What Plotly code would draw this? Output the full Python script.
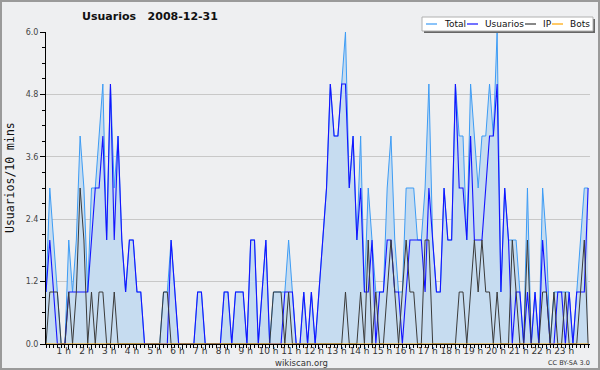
import plotly.graph_objects as go

# 10-minute slots over the day (minutes since midnight)
minutes = list(range(0, 1440, 10))

total = [
    1, 3, 2, 1, 0, 0, 2, 1, 2, 4, 3, 1, 3, 3, 4, 5, 2, 5, 3, 4, 2, 1, 2, 2,
    1, 1, 0, 0, 0, 0, 0, 1, 1, 2, 1, 0, 0, 0, 0, 0, 1, 1, 0, 0, 0, 0, 0, 1,
    1, 0, 1, 1, 1, 0, 2, 2, 0, 1, 2, 0, 1, 1, 1, 1, 2, 1, 0, 0, 1, 0, 1, 0,
    1, 2, 3, 5, 4, 4, 5, 6, 3, 4, 2, 4, 1, 3, 2, 1, 1, 1, 3, 4, 2, 1, 1, 3,
    3, 3, 2, 2, 3, 5, 2, 1, 1, 3, 2, 2, 5, 4, 4, 2, 5, 4, 3, 4, 4, 5, 4, 6,
    1, 3, 2, 2, 2, 1, 0, 3, 0, 1, 0, 3, 2, 0, 1, 1, 1, 1, 1, 0, 1, 2, 3, 3,
]
usuarios = [
    1, 2, 1, 0, 0, 0, 1, 1, 1, 1, 1, 1, 2, 3, 3, 4, 2, 5, 2, 4, 2, 1, 2, 2,
    1, 1, 0, 0, 0, 0, 0, 0, 0, 2, 1, 0, 0, 0, 0, 0, 1, 1, 0, 0, 0, 0, 0, 1,
    1, 0, 1, 1, 1, 0, 2, 2, 0, 1, 2, 0, 0, 0, 0, 1, 1, 1, 0, 0, 1, 0, 1, 0,
    1, 2, 3, 5, 4, 4, 5, 5, 3, 4, 2, 3, 1, 1, 2, 0, 1, 1, 2, 2, 1, 1, 0, 1,
    2, 2, 2, 2, 1, 3, 2, 1, 1, 3, 2, 2, 5, 3, 3, 2, 4, 2, 2, 2, 3, 4, 4, 5,
    1, 3, 2, 0, 1, 1, 0, 1, 0, 1, 0, 2, 1, 0, 0, 1, 1, 0, 1, 0, 1, 1, 1, 3,
]
ip = [
    0, 1, 1, 1, 0, 0, 1, 0, 1, 3, 2, 0, 1, 0, 1, 1, 0, 0, 1, 0, 0, 0, 0, 0,
    0, 0, 0, 0, 0, 0, 0, 1, 1, 0, 0, 0, 0, 0, 0, 0, 0, 0, 0, 0, 0, 0, 0, 0,
    0, 0, 0, 0, 0, 0, 0, 0, 0, 0, 0, 0, 1, 1, 1, 0, 1, 0, 0, 0, 0, 0, 0, 0,
    0, 0, 0, 0, 0, 0, 0, 1, 0, 0, 0, 1, 0, 2, 0, 1, 0, 0, 1, 2, 1, 0, 1, 2,
    1, 1, 0, 0, 2, 2, 0, 0, 0, 0, 0, 0, 0, 1, 1, 0, 1, 2, 1, 2, 1, 1, 0, 1,
    0, 0, 0, 2, 1, 0, 0, 2, 0, 0, 0, 1, 1, 0, 1, 0, 0, 1, 0, 0, 0, 1, 2, 0,
]
bots = [
    0, 0, 0, 0, 0, 0, 0, 0, 0, 0, 0, 0, 0, 0, 0, 0, 0, 0, 0, 0, 0, 0, 0, 0,
    0, 0, 0, 0, 0, 0, 0, 0, 0, 0, 0, 0, 0, 0, 0, 0, 0, 0, 0, 0, 0, 0, 0, 0,
    0, 0, 0, 0, 0, 0, 0, 0, 0, 0, 0, 0, 0, 0, 0, 0, 0, 0, 0, 0, 0, 0, 0, 0,
    0, 0, 0, 0, 0, 0, 0, 0, 0, 0, 0, 0, 0, 0, 0, 0, 0, 0, 0, 0, 0, 0, 0, 0,
    0, 0, 0, 0, 0, 0, 0, 0, 0, 0, 0, 0, 0, 0, 0, 0, 0, 0, 0, 0, 0, 0, 0, 0,
    0, 0, 0, 0, 0, 0, 0, 0, 0, 0, 0, 0, 0, 0, 0, 0, 0, 0, 0, 0, 0, 0, 0, 0,
]

hour_ticks = [60, 120, 180, 240, 300, 360, 420, 480, 540, 600, 660, 720,
              780, 840, 900, 960, 1020, 1080, 1140, 1200, 1260, 1320, 1380]
hour_labels = ["1 h", "2 h", "3 h", "4 h", "5 h", "6 h", "7 h", "8 h", "9 h",
               "10 h", "11 h", "12 h", "13 h", "14 h", "15 h", "16 h", "17 h",
               "18 h", "19 h", "20 h", "21 h", "22 h", "23 h"]
y_ticks = [0.0, 1.2, 2.4, 3.6, 4.8, 6.0]
y_labels = ["0.0", "1.2", "2.4", "3.6", "4.8", "6.0"]

series_names = ["Total", "Usuarios", "IP", "Bots"]
series_colors = ["#3d9cf5", "#1414ff", "#3a3a3a", "#ffa500"]

W, H = 600, 370
ML, MR, MT, MB = 46, 10, 32, 26
PW, PH = W - ML - MR, H - MT - MB


def px(x):
    return (x - ML) / PW


def py(y):
    return (H - MB - y) / PH


fig = go.Figure()
fig.add_trace(go.Scatter(x=minutes, y=total, name="Total", mode="lines",
                         line=dict(color=series_colors[0], width=1),
                         fill="tozeroy", fillcolor="#c6dcf0"))
fig.add_trace(go.Scatter(x=minutes, y=usuarios, name="Usuarios", mode="lines",
                         line=dict(color=series_colors[1], width=1.1)))
fig.add_trace(go.Scatter(x=minutes, y=ip, name="IP", mode="lines",
                         line=dict(color=series_colors[2], width=1)))
fig.add_trace(go.Scatter(x=minutes, y=bots, name="Bots", mode="lines",
                         line=dict(color=series_colors[3], width=1)))

shapes = []
annotations = []

# outer frame
shapes.append(dict(type="rect", xref="paper", yref="paper",
                   x0=px(1), x1=px(599), y0=py(1), y1=py(369),
                   line=dict(color="#9a9a9a", width=2), layer="below"))

# legend box with shadow
lx0, lx1, ly0, ly1 = 422, 593, 17, 31
shapes.append(dict(type="rect", xref="paper", yref="paper",
                   x0=px(lx0 + 2), x1=px(lx1 + 2), y0=py(ly0 + 2), y1=py(ly1 + 2),
                   fillcolor="#666666", line=dict(width=0)))
shapes.append(dict(type="rect", xref="paper", yref="paper",
                   x0=px(lx0), x1=px(lx1), y0=py(ly0), y1=py(ly1),
                   fillcolor="white", line=dict(color="#b0b0b0", width=1)))
sample_x = [426, 467, 525, 552]
text_x = [442, 483, 541, 568]
ly = 24
for name, color, sx, tx in zip(series_names, series_colors, sample_x, text_x):
    shapes.append(dict(type="line", xref="paper", yref="paper",
                       x0=px(sx), x1=px(sx + 11), y0=py(ly), y1=py(ly),
                       line=dict(color=color, width=1.2)))
    annotations.append(dict(text=name, xref="paper", yref="paper",
                            x=px(tx), y=py(ly), xanchor="left", yanchor="middle",
                            showarrow=False,
                            font=dict(family="DejaVu Sans", size=9, color="#111")))

# y-axis title
annotations.append(dict(text="Usuarios/10 mins", xref="paper", yref="paper",
                        x=px(10), y=py(178), textangle=-90, showarrow=False,
                        xanchor="center", yanchor="middle",
                        font=dict(family="DejaVu Sans Mono", size=11.5, color="#111")))
# footer
annotations.append(dict(text="wikiscan.org", xref="paper", yref="paper",
                        x=px(301), y=py(362.5), showarrow=False,
                        xanchor="center", yanchor="middle",
                        font=dict(family="DejaVu Sans", size=8.5, color="#333")))
annotations.append(dict(text="CC BY-SA 3.0", xref="paper", yref="paper",
                        x=px(592), y=py(362.5), showarrow=False,
                        xanchor="right", yanchor="middle",
                        font=dict(family="DejaVu Sans", size=6.5, color="#333")))

fig.update_layout(
    width=W, height=H,
    margin=dict(l=ML, r=MR, t=MT, b=MB, pad=0),
    paper_bgcolor="#eeeff1", plot_bgcolor="#eeeff1",
    showlegend=False,
    title=dict(text="Usuarios\u00a0\u00a0 2008-12-31", x=150 / W, xref="container",
               xanchor="center", y=1 - 16 / H, yref="container", yanchor="middle",
               font=dict(family="DejaVu Sans", size=11, color="#111", weight="bold")),
    shapes=shapes, annotations=annotations,
    xaxis=dict(range=[0, 1435], showgrid=False, zeroline=False,
               showline=True, linecolor="black", linewidth=1,
               tickmode="array", tickvals=hour_ticks, ticktext=hour_labels,
               ticks="outside", ticklen=4, tickcolor="black", tickwidth=1,
               ticklabelshift=-5, ticklabelstandoff=-6,
               tickfont=dict(family="DejaVu Sans", size=9, color="#333"),
               minor=dict(dtick=10, tick0=0, ticks="outside", ticklen=3,
                          tickcolor="black", showgrid=False)),
    yaxis=dict(range=[0, 6], showgrid=True, gridcolor="#c8c8c8", gridwidth=1,
               zeroline=False, showline=True, linecolor="black", linewidth=1,
               tickmode="array", tickvals=y_ticks, ticktext=y_labels,
               ticks="outside", ticklen=5, tickcolor="black",
               tickfont=dict(family="DejaVu Sans", size=8, color="#444"),
               minor=dict(dtick=0.3, tick0=0, ticks="outside", ticklen=3,
                          tickcolor="black", showgrid=False)),
)

fig.write_html("out.html", config={"displayModeBar": False},
               post_script="document.body.style.margin='0px';")
